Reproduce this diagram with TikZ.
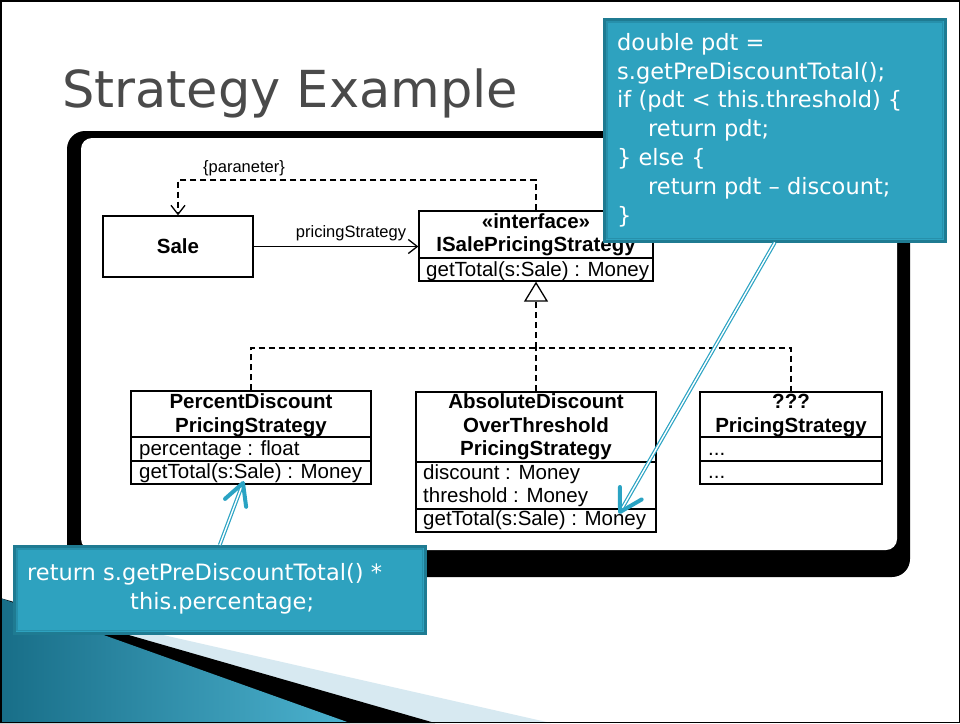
\documentclass[tikz,border=0pt]{standalone}
\usepackage{fontspec}
\setmainfont{Liberation Sans}
\newfontfamily\calloutfont{DejaVu Sans}
\usetikzlibrary{arrows.meta,calc}
\definecolor{calloutfill}{HTML}{2EA2BF}
\definecolor{calloutedge}{HTML}{1F7B92}
\definecolor{calloutinner}{HTML}{2790AB}
\definecolor{arrowteal}{HTML}{2AA3C3}
\definecolor{titlegray}{HTML}{4A4A4A}
\definecolor{wedgedark}{HTML}{186E88}
\definecolor{wedgelight}{HTML}{4CB2CF}
\definecolor{wedgepale}{HTML}{D7E9F1}
\begin{document}
\begin{tikzpicture}[x=1pt,y=-1pt,
  umlbox/.style={draw=black, line width=1.3pt, inner sep=0pt, fill=white},
  umlline/.style={draw=black, line width=1.3pt},
  umltext/.style={font=\fontsize{20.5}{23}\selectfont, inner sep=0pt, anchor=base},
  umlbold/.style={umltext, font=\fontsize{20.5}{23}\selectfont\bfseries},
  umlleft/.style={umltext, anchor=base west},
  smalllabel/.style={font=\fontsize{16.5}{19}\selectfont, inner sep=0pt, anchor=base},
  dashline/.style={draw=black, line width=1.3pt, dash pattern=on 6pt off 4pt},
  callout/.style={draw=calloutedge, line width=2.5pt, fill=calloutfill, inner sep=0pt},
  calloutline/.style={draw=calloutinner, line width=1.2pt},
  callouttext/.style={font=\calloutfont\fontsize{22.5}{28.8}\selectfont, text=white, align=left, inner sep=0pt},
  shaft/.style={draw=arrowteal, line width=1.2pt, double=white, double distance=1.4pt, shorten >=4pt},
  headline/.style={draw=arrowteal, line width=4pt, line cap=round, line join=round},
  barb/.style={-{Straight Barb[length=9pt,width=14pt]}}
]
\useasboundingbox (0,0) rectangle (960,723);
\fill[white] (0,0) rectangle (960,723);

% bottom-left decoration
\fill[wedgepale] (0,598) -- (551,723) -- (0,723) -- cycle;
\fill[black] (0,598) -- (435,723) -- (0,723) -- cycle;
\shade[left color=wedgedark, right color=wedgelight] (0,598) -- (350,723) -- (0,723) -- cycle;

% title
\node[font=\calloutfont\fontsize{51}{60}\selectfont, text=titlegray, anchor=base west, inner sep=0pt] (title) at (62,107) {Strategy Example};

% thick frame
\fill[black, rounded corners=18pt] (67,131) rectangle (910,577);
\fill[white, rounded corners=11pt] (81,138) rectangle (897,550);

% UML classes
\node[umlbox, minimum width=150pt, minimum height=61pt] (sale) at (178,246.5) {};
\node[umlbold] (saletxt) at (178,253) {Sale};

\node[umlbox, minimum width=234pt, minimum height=70pt] (iface) at (536,246) {};
\coordinate (yi) at (0,258);
\draw[umlline] (iface.west |- yi) -- (iface.east |- yi);
\node[umlbold] (ifst) at (536,228) {«interface»};
\node[umlbold] (ifname) at (536,251) {ISalePricingStrategy};
\node[umlleft] (ifop) at (426,276) {getTotal(s:Sale) : Money};

\node[umlbox, minimum width=240pt, minimum height=93pt] (pct) at (251,437.5) {};
\coordinate (yp1) at (0,437);
\coordinate (yp2) at (0,461);
\draw[umlline] (pct.west |- yp1) -- (pct.east |- yp1);
\draw[umlline] (pct.west |- yp2) -- (pct.east |- yp2);
\node[umlbold] (pctn1) at (251,408) {PercentDiscount};
\node[umlbold] (pctn2) at (251,432) {PricingStrategy};
\node[umlleft] (pcta) at (139,455) {percentage : float};
\node[umlleft] (pcto) at (139,478) {getTotal(s:Sale) : Money};

\node[umlbox, minimum width=240pt, minimum height=140pt] (abs) at (536,462) {};
\coordinate (ya1) at (0,462);
\coordinate (ya2) at (0,509);
\draw[umlline] (abs.west |- ya1) -- (abs.east |- ya1);
\draw[umlline] (abs.west |- ya2) -- (abs.east |- ya2);
\node[umlbold] (absn1) at (536,408) {AbsoluteDiscount};
\node[umlbold] (absn2) at (536,432) {OverThreshold};
\node[umlbold] (absn3) at (536,455) {PricingStrategy};
\node[umlleft] (absa1) at (423,479) {discount : Money};
\node[umlleft] (absa2) at (423,502) {threshold : Money};
\node[umlleft] (abso) at (423,525) {getTotal(s:Sale) : Money};

\node[umlbox, minimum width=182pt, minimum height=92pt] (qq) at (791,438) {};
\draw[umlline] (qq.west |- yp1) -- (qq.east |- yp1);
\draw[umlline] (qq.west |- yp2) -- (qq.east |- yp2);
\node[umlbold] (qqn1) at (791,408) {???};
\node[umlbold] (qqn2) at (791,432) {PricingStrategy};
\node[umlleft] (qqa) at (708,455) {...};
\node[umlleft] (qqo) at (708,478) {...};

% connectors
\coordinate (junc) at (536,348);
\draw[dashline] (pct.north) |- (junc) -| (qq.north);
\draw[dashline] (abs.north) -- (junc);
\draw[dashline, -{Triangle[open, length=20pt, width=24pt, line width=1.3pt]}] (junc) -- (iface.south);

\coordinate (depc) at (357,180);
\draw[dashline, barb] (iface.north) |- (depc) -| (sale.north);
\node[smalllabel] (lblpar) at (244,172) {\{paraneter\}};

\draw[umlline, barb] (sale.east) -- (sale.east -| iface.west);
\node[smalllabel] (lblps) at (351,237) {pricingStrategy};

% callout 1
\node[callout, minimum width=341pt, minimum height=222pt, anchor=north west] (c1) at (603,18) {};
\draw[calloutline] ($(c1.north west)+(4,4)$) rectangle ($(c1.south east)+(-4,-4)$);
\node[callouttext, anchor=north west] (c1txt) at (617,33) {double pdt =\\s.getPreDiscountTotal();\\if (pdt < this.threshold) \{\\\hspace*{31pt}return pdt;\\\} else \{\\\hspace*{31pt}return pdt – discount;\\\}};

% callout 2
\node[callout, minimum width=411pt, minimum height=87pt, anchor=north west] (c2) at (13,545) {};
\draw[calloutline] ($(c2.north west)+(4,4)$) rectangle ($(c2.south east)+(-4,-4)$);
\node[callouttext, anchor=north west] (c2txt) at (27,563.5) {return s.getPreDiscountTotal() *\\\hspace*{103pt}this.percentage;};

% callout arrows
\coordinate (t1) at (620,512);
\coordinate (t2) at (243,483);
\draw[shaft] (c1.south) -- (t1);
\draw[headline] ($(t1)!25pt!30:(c1.south)$) -- (t1) -- ($(t1)!25pt!-30:(c1.south)$);
\draw[shaft] (c2.north) -- (t2);
\draw[headline] ($(t2)!24pt!28:(c2.north)$) -- (t2) -- ($(t2)!24pt!-28:(c2.north)$);

% outer border
\draw[black, line width=1.5pt] (0.75,0.75) rectangle (959.25,722.25);
\end{tikzpicture}
\end{document}
